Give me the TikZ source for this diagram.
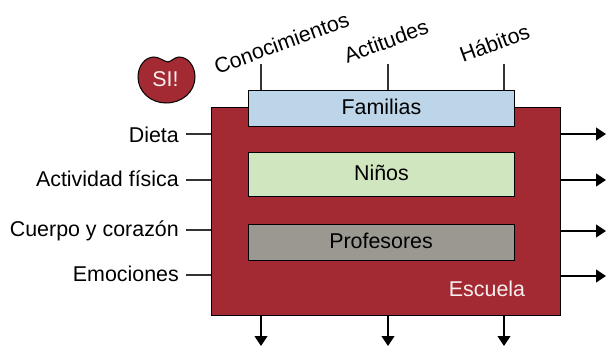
\documentclass[tikz,border=0pt]{standalone}
\usepackage{fontspec}
\setmainfont{Liberation Sans}
\usetikzlibrary{arrows.meta}
\definecolor{school}{HTML}{A32A33}
\definecolor{fam}{HTML}{BCD5E8}
\definecolor{nin}{HTML}{CFE6BE}
\definecolor{prof}{HTML}{9B9892}
\tikzset{
  x=1pt,y=-1pt,
  lbl/.style={font=\fontsize{21.4}{24}\selectfont,text=black,inner sep=0pt},
  rot/.style={lbl,rotate=20},
  lft/.style={lbl,anchor=east},
  whitetxt/.style={font=\fontsize{21.4}{24}\selectfont,text=white!92!school,inner sep=0pt},
  box/.style={draw=black,line width=1.1pt,inner sep=0pt,anchor=north west},
  conn/.style={draw=black!80,line width=1.1pt},
  arr/.style={draw=black,line width=1.1pt,-{Triangle[length=10pt,width=13pt]}}
}
\begin{document}
\begin{tikzpicture}
\useasboundingbox (0,0) rectangle (608,346);
% school
\node[box,fill=school,minimum width=349pt,minimum height=208pt] (esc) at (211,107) {};
\node[box,fill=fam,minimum width=266pt,minimum height=36pt] (fam) at (248,90) {};
\node[lbl] (famt) at (381.5,107) {Familias};
\node[box,fill=nin,minimum width=266pt,minimum height=44pt] (nin) at (248,152) {};
\node[lbl] (nint) at (381.5,173) {Niños};
\node[box,fill=prof,minimum width=266pt,minimum height=36pt] (pro) at (248,224) {};
\node[lbl] (prot) at (381,241) {Profesores};
\node[whitetxt] (esclbl) at (487,289) {Escuela};
% logo
\draw[fill=school,draw=black,line width=1pt]
  (168,62) .. controls (163,61) and (159,57) .. (154,57)
  .. controls (145,57) and (138,66) .. (138,77)
  .. controls (138,92) and (151,103) .. (166,103)
  .. controls (182,103) and (195,92) .. (195,77)
  .. controls (195,66) and (188,57) .. (179,57)
  .. controls (175,57) and (172,61) .. (168,62) -- cycle;
\node[whitetxt] (si) at (165.5,79) {SI!};
% top
\coordinate (t1) at (261,64);\coordinate (t2) at (388,64);\coordinate (t3) at (504,64);
\coordinate (ft1) at (261,90);\coordinate (ft2) at (388,90);\coordinate (ft3) at (504,90);
\draw[conn] (t1)--(ft1);\draw[conn] (t2)--(ft2);\draw[conn] (t3)--(ft3);
\node[rot] (c1) at (281.5,43) {Conocimientos};
\node[rot] (c2) at (386,41) {Actitudes};
\node[rot] (c3) at (494.5,43) {Hábitos};
% left
\node[lft] (d) at (179,134.5) {Dieta};
\node[lft] (a) at (179,179) {Actividad física};
\node[lft] (k) at (179,230.5) {Cuerpo y corazón};
\node[lft] (e) at (179,274) {Emociones};
\coordinate (ld) at (211,134);\coordinate (la) at (211,180);\coordinate (lk) at (211,230);\coordinate (le) at (211,275);
\coordinate (sd) at (186,134);\coordinate (sa) at (186,180);\coordinate (sk) at (186,230);\coordinate (se) at (186,275);
\draw[conn] (sd)--(ld);\draw[conn] (sa)--(la);\draw[conn] (sk)--(lk);\draw[conn] (se)--(le);
% right
\foreach \y/\n in {134/a,180/b,231/c,276/d}{
  \coordinate (r\n s) at (560,\y);\coordinate (r\n e) at (606,\y);
  \draw[arr] (r\n s)--(r\n e);
}
% bottom
\foreach \x/\n in {261/a,388/b,504/c}{
  \coordinate (b\n s) at (\x,315);\coordinate (b\n e) at (\x,346);
  \draw[arr] (b\n s)--(b\n e);
}
\end{tikzpicture}
\end{document}
